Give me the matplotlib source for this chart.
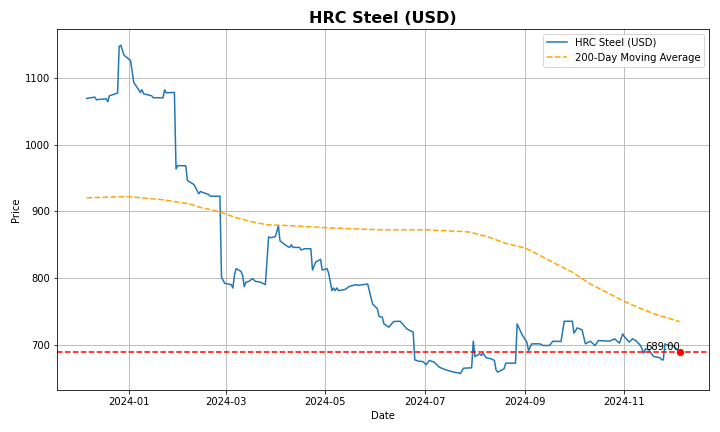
import matplotlib
matplotlib.use("Agg")
import matplotlib.pyplot as plt
import pandas as pd

price_dates = [
    "2023-12-06", "2023-12-11", "2023-12-12", "2023-12-18", "2023-12-19", "2023-12-20",
    "2023-12-25", "2023-12-26", "2023-12-27", "2023-12-29", "2024-01-02", "2024-01-04",
    "2024-01-07", "2024-01-08", "2024-01-09", "2024-01-10", "2024-01-15", "2024-01-16",
    "2024-01-22", "2024-01-23", "2024-01-24", "2024-01-29", "2024-01-30", "2024-01-31",
    "2024-02-05", "2024-02-06", "2024-02-10", "2024-02-13", "2024-02-14", "2024-02-19",
    "2024-02-20", "2024-02-26", "2024-02-27", "2024-02-29", "2024-03-04", "2024-03-05",
    "2024-03-06", "2024-03-07", "2024-03-10", "2024-03-11", "2024-03-12", "2024-03-13",
    "2024-03-15", "2024-03-17", "2024-03-19", "2024-03-22", "2024-03-25", "2024-03-27",
    "2024-03-28", "2024-03-31", "2024-04-01", "2024-04-02", "2024-04-03", "2024-04-05",
    "2024-04-08", "2024-04-09", "2024-04-10", "2024-04-11", "2024-04-15", "2024-04-16",
    "2024-04-18", "2024-04-22", "2024-04-23", "2024-04-25", "2024-04-28", "2024-04-29",
    "2024-05-02", "2024-05-03", "2024-05-05", "2024-05-06", "2024-05-07", "2024-05-08",
    "2024-05-09", "2024-05-13", "2024-05-16", "2024-05-20", "2024-05-21", "2024-05-27",
    "2024-05-30", "2024-06-02", "2024-06-03", "2024-06-05", "2024-06-06", "2024-06-09",
    "2024-06-12", "2024-06-16", "2024-06-20", "2024-06-24", "2024-06-25", "2024-06-27",
    "2024-06-30", "2024-07-02", "2024-07-04", "2024-07-07", "2024-07-10", "2024-07-14",
    "2024-07-19", "2024-07-22", "2024-07-23", "2024-07-25", "2024-07-30", "2024-07-31",
    "2024-08-01", "2024-08-04", "2024-08-05", "2024-08-06", "2024-08-08", "2024-08-11",
    "2024-08-13", "2024-08-14", "2024-08-15", "2024-08-17", "2024-08-19", "2024-08-20",
    "2024-08-26", "2024-08-27", "2024-08-30", "2024-09-02", "2024-09-03", "2024-09-05",
    "2024-09-10", "2024-09-12", "2024-09-16", "2024-09-18", "2024-09-23", "2024-09-25",
    "2024-09-30", "2024-10-01", "2024-10-03", "2024-10-06", "2024-10-08", "2024-10-11",
    "2024-10-14", "2024-10-16", "2024-10-23", "2024-10-26", "2024-10-29", "2024-10-31",
    "2024-11-01", "2024-11-04", "2024-11-06", "2024-11-08", "2024-11-11", "2024-11-13",
    "2024-11-14", "2024-11-16", "2024-11-19", "2024-11-23", "2024-11-24", "2024-11-25",
    "2024-11-26", "2024-11-28", "2024-12-01", "2024-12-02", "2024-12-04", "2024-12-05",
]
price_values = [
    1070, 1072, 1068, 1069.5, 1065, 1074,
    1078, 1148, 1150, 1135, 1127, 1094,
    1083, 1079, 1083, 1077, 1074, 1071,
    1071, 1083, 1078.5, 1079, 964, 969,
    968.7, 946.6, 940.6, 926.6, 930, 925.6,
    923, 923, 801, 792, 790, 785,
    805, 814, 810, 804, 787, 793.7,
    795, 799, 795, 793.7, 790, 862,
    860.5, 862, 869, 879, 856, 852,
    847, 846, 850, 846, 846, 842,
    844, 844, 812, 824, 828, 812,
    814, 807, 781, 785, 781, 785,
    781, 782.7, 787.7, 790, 789, 791,
    761, 753.6, 742, 741, 731, 726,
    734.6, 735, 723.6, 718.5, 677, 675,
    674.4, 669.5, 676, 673.4, 666, 662,
    658.4, 657.4, 656, 664.4, 665, 705,
    682, 686, 683.5, 687, 680, 678.5,
    676, 662, 658.4, 661, 663.5, 672,
    672, 731, 715, 703.5, 691, 701,
    701, 698.5, 698.5, 705, 704.5, 735,
    735, 717, 725, 722, 701, 705,
    698.5, 706, 705, 708.5, 702, 716,
    712, 703.5, 708.5, 706, 698.5, 687,
    693.5, 692, 682, 680, 677, 677,
    701, 698.5, 698.5, 696, 691, 689,
]

ma_dates = [
    "2023-12-06", "2023-12-31", "2024-01-22", "2024-02-07", "2024-02-14", "2024-02-22",
    "2024-02-26", "2024-03-06", "2024-03-15", "2024-03-26", "2024-04-11", "2024-05-02",
    "2024-06-03", "2024-07-02", "2024-07-10", "2024-07-23", "2024-07-29", "2024-08-10",
    "2024-08-20", "2024-09-01", "2024-09-10", "2024-09-20", "2024-09-30", "2024-10-11",
    "2024-10-21", "2024-10-31", "2024-11-10", "2024-11-21", "2024-12-05",
]
ma_values = [
    920.5, 922.5, 917.6, 911.6, 906, 902,
    899, 891.5, 885.4, 880, 878.5, 875.5,
    872.5, 872.5, 871.4, 870, 869, 861,
    852, 845, 834, 821, 808.7, 791,
    778.6, 766, 755, 744.7, 734.5,
]

last_price = 689.0

px = pd.to_datetime(price_dates)
mx = pd.to_datetime(ma_dates)

fig, ax = plt.subplots(figsize=(10, 6), dpi=72)
ax.plot(px, price_values, label="HRC Steel (USD)", color="#1f77b4", linewidth=1.5)
ax.plot(mx, ma_values, label="200-Day Moving Average", color="orange", linestyle="--", linewidth=1.5)
ax.axhline(last_price, color="red", linestyle="--", linewidth=1.5)
ax.scatter([px[-1]], [last_price], color="red", s=40, zorder=5)
ax.text(px[-1], last_price, f"{last_price:.2f}", ha="right", va="bottom", fontsize=10)

ax.set_title("HRC Steel (USD)", fontsize=16, fontweight="bold")
ax.set_xlabel("Date")
ax.set_ylabel("Price")
ax.grid(True)
ax.legend(loc="upper right")
fig.tight_layout()
fig.savefig("out.png", dpi=72)
